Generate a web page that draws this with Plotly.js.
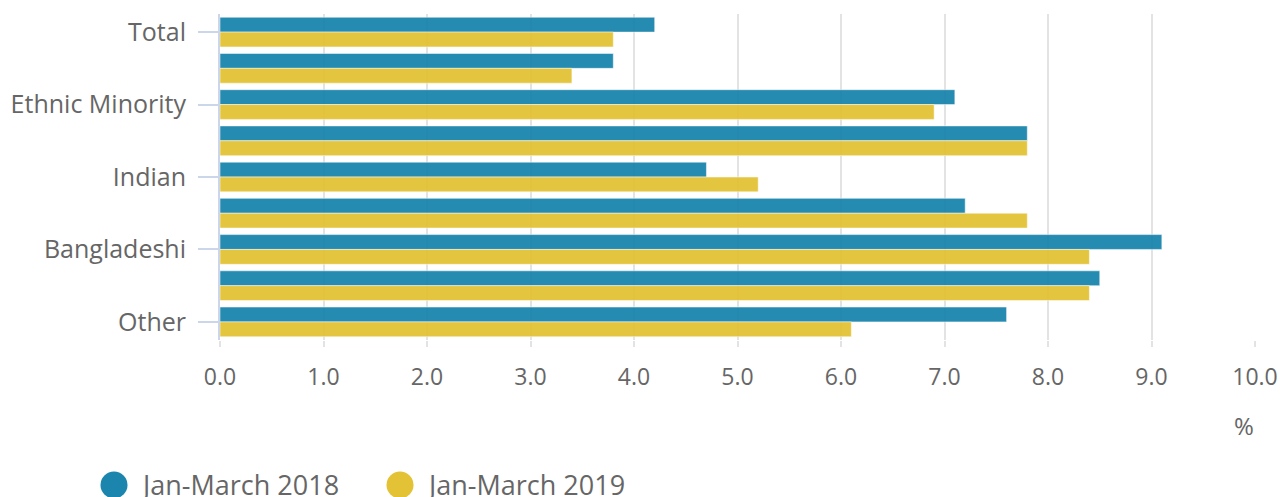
<!DOCTYPE html>
<html>
<head>
<meta charset="utf-8">
<script src="https://cdn.plot.ly/plotly-3.0.1.min.js"></script>
<style>html,body{margin:0;padding:0;background:#fff;}#chart{width:1280px;height:497px;}</style>
</head>
<body>
<div id="chart"></div>
<script>
var categories = ["Total", "White", "Ethnic Minority", "Mixed", "Indian", "Pakistani", "Bangladeshi", "Black", "Other"];
var shownTicks = ["Total", "Ethnic Minority", "Indian", "Bangladeshi", "Other"];
var seriesNames = ["Jan-March 2018", "Jan-March 2019"];
var values2018 = [4.2, 3.8, 7.1, 7.8, 4.7, 7.2, 9.1, 8.5, 7.6];
var values2019 = [3.8, 3.4, 6.9, 7.8, 5.2, 7.8, 8.4, 8.4, 6.1];
var colors = ["#1b85ad", "#e3c235"];
var xTicks = [0, 1, 2, 3, 4, 5, 6, 7, 8, 9, 10];

var seriesValues = [values2018, values2019];
var traces = seriesValues.map(function (vals, i) {
  return {
    type: "bar",
    orientation: "h",
    name: seriesNames[i],
    y: categories,
    x: vals,
    marker: {color: colors[i], opacity: 0.95, line: {color: "rgba(255,255,255,0.5)", width: 1}},
    showlegend: false,
    hoverinfo: "x+name"
  };
});

var fam = "Open Sans, sans-serif";
var grey = "#666666";
var plotL = 220, plotR = 1255, plotT = 14, plotB = 340;
function px2paperX(px) { return (px - plotL) / (plotR - plotL); }
function px2paperY(py) { return (plotB - py) / (plotB - plotT); }

var legendX = [114, 400];
var legendY = 485;
var shapes = [], annotations = [];
seriesNames.forEach(function (name, i) {
  shapes.push({
    type: "circle", xref: "paper", yref: "paper",
    xsizemode: "pixel", ysizemode: "pixel",
    xanchor: px2paperX(legendX[i]), yanchor: px2paperY(legendY),
    x0: -13.5, x1: 13.5, y0: -13.5, y1: 13.5,
    fillcolor: colors[i], line: {width: 0}
  });
  annotations.push({
    xref: "paper", yref: "paper",
    x: px2paperX(legendX[i] + 24), y: px2paperY(legendY),
    xanchor: "left", yanchor: "middle",
    text: name, showarrow: false, font: {family: fam, size: 27, color: grey}
  });
});
annotations.push({
  xref: "paper", yref: "paper", x: px2paperX(1244), y: px2paperY(425),
  xanchor: "center", yanchor: "middle", text: "%", showarrow: false,
  font: {family: fam, size: 24, color: grey}
});

var layout = {
  width: 1280, height: 497,
  margin: {l: plotL, r: 1280 - plotR, t: plotT, b: 497 - plotB, pad: 0},
  paper_bgcolor: "#ffffff", plot_bgcolor: "#ffffff",
  font: {family: fam, size: 23, color: grey},
  barmode: "group",
  bargap: 0.18, bargroupgap: 0,
  showlegend: false,
  xaxis: {
    range: [0, 10], tickvals: xTicks, tickformat: ".1f",
    showgrid: true, gridcolor: "#e3e3e3", gridwidth: 2,
    zeroline: false, showline: false,
    ticks: "outside", ticklen: 6, tickcolor: "#e3e3e3", tickwidth: 2,
    ticklabelstandoff: 10,
    tickfont: {family: fam, size: 23, color: grey}, fixedrange: true
  },
  yaxis: {
    type: "category", autorange: "reversed",
    tickvals: shownTicks, ticktext: shownTicks,
    showgrid: false, zeroline: false,
    showline: true, linecolor: "#ccd6eb", linewidth: 2,
    ticks: "outside", ticklen: 20, tickcolor: "#ccd6eb", tickwidth: 2,
    ticklabelstandoff: 7,
    tickfont: {family: fam, size: 25, color: grey}, fixedrange: true
  },
  shapes: shapes,
  annotations: annotations
};

Plotly.newPlot("chart", traces, layout, {displayModeBar: false, staticPlot: true});
</script>
</body>
</html>
